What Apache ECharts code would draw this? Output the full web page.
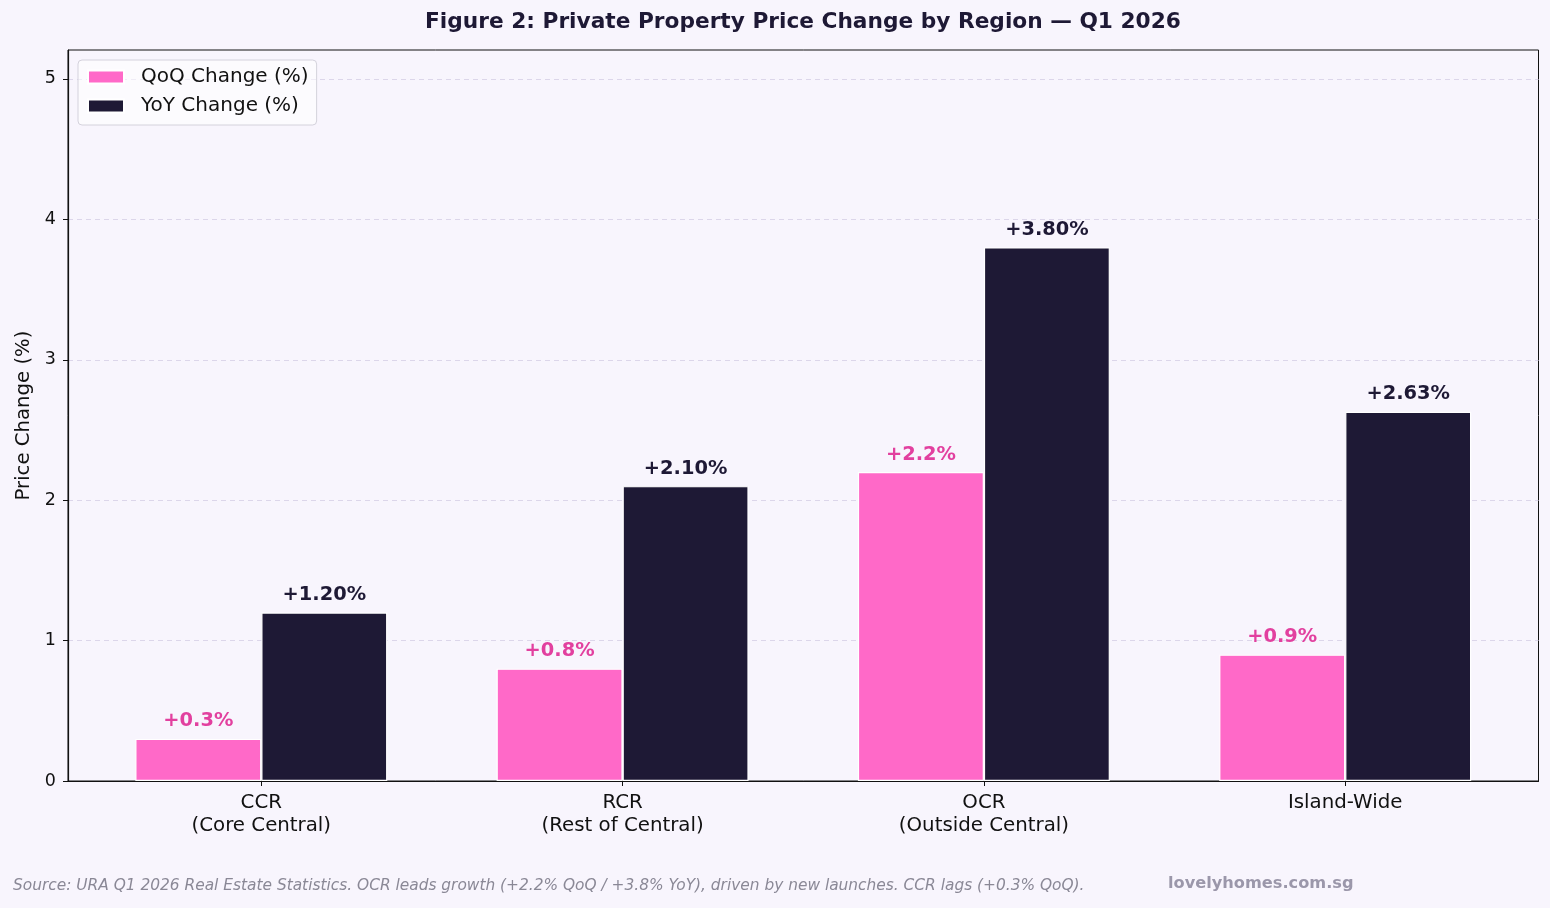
<!DOCTYPE html>
<html>
<head>
	<meta charset="UTF-8">
	<title>Private Property Price Change by Region</title>
	<script src="https://cdn.jsdelivr.net/npm/echarts@6/dist/echarts.min.js"></script>
	<style>
		body { margin: 0; background: #f8f5fd; }
	</style>
</head>
<body>

	<div id="main" style="width: 1550px;height:908px;"></div>

	<script>
		// chart data
		var regions = ['CCR\n(Core Central)', 'RCR\n(Rest of Central)', 'OCR\n(Outside Central)', 'Island-Wide'];
		var qoqValues = [0.3, 0.8, 2.2, 0.9];
		var yoyValues = [1.2, 2.1, 3.8, 2.63];
		var yTicks = [0, 1, 2, 3, 4, 5];

		const pinkColor = '#ff69c8';
		const pinkLabel = '#e2409f';
		const darkColor = '#1e1935';

		var chartDom = document.getElementById('main');
		var myChart = echarts.init(chartDom);

		// bars sit on a value x axis so the category centres line up with the picture
		var regionPos = regions.map(function (r, i) { return i; });

		function toPoints(values) {
			return values.map(function (v, i) { return [regionPos[i], v]; });
		}

		var option = {
			backgroundColor: '#f8f5fd',
			textStyle: { fontFamily: 'DejaVu Sans' },
			title: {
				text: 'Figure 2: Private Property Price Change by Region — Q1 2026',
				left: 420,
				top: 6,
				textStyle: { fontSize: 21.7, fontWeight: 'bold', color: darkColor, fontFamily: 'DejaVu Sans' }
			},
			legend: {
				orient: 'vertical',
				left: 78,
				top: 60,
				padding: [7, 8, 9, 9],
				itemWidth: 36,
				itemHeight: 13,
				itemGap: 9,
				backgroundColor: 'rgba(255,255,255,0.55)',
				borderColor: '#d4d2dc',
				borderWidth: 1,
				borderRadius: 4,
				textStyle: { fontSize: 20, color: '#111', padding: [0, 0, 0, 12] },
				data: [
					{ name: 'QoQ Change (%)', icon: 'rect' },
					{ name: 'YoY Change (%)', icon: 'rect' }
				]
			},
			grid: {
				left: 68,
				right: 11.5,
				top: 50,
				bottom: 127,
				show: true,
				borderColor: '#111',
				borderWidth: 1,
				backgroundColor: 'transparent'
			},
			xAxis: {
				type: 'value',
				min: -0.535,
				max: 3.535,
				axisLine: { show: true, onZero: false, lineStyle: { color: '#111', width: 1.2 } },
				axisTick: { show: true, customValues: regionPos, length: 5, lineStyle: { color: '#111' } },
				axisLabel: {
					customValues: regionPos,
					fontSize: 19.8,
					color: '#111',
					lineHeight: 23,
					margin: 10,
					formatter: function (v) { return regions[Math.round(v)]; }
				},
				splitLine: { show: false }
			},
			yAxis: {
				type: 'value',
				min: 0,
				max: 5.206,
				interval: 1,
				name: 'Price Change (%)',
				nameLocation: 'middle',
				nameGap: 33,
				nameTextStyle: { fontSize: 19.7, color: '#111' },
				axisLine: { show: true, onZero: false, lineStyle: { color: '#111', width: 1.2 } },
				axisTick: { show: true, customValues: yTicks, length: 5, lineStyle: { color: '#111' } },
				axisLabel: {
					customValues: yTicks,
					fontSize: 17.5,
					color: '#111',
					margin: 12
				},
				splitLine: {
					show: true,
					showMinLine: false,
					showMaxLine: true,
					lineStyle: { color: '#dcd6ea', type: [5, 4], width: 1 }
				}
			},
			series: [
				{
					name: 'QoQ Change (%)',
					type: 'bar',
					data: toPoints(qoqValues),
					barWidth: 126,
					barGap: '0%',
					itemStyle: { color: pinkColor, borderColor: '#fff', borderWidth: 1.2 },
					label: {
						show: true,
						position: 'top',
						distance: 8,
						fontSize: 19.4,
						fontWeight: 'bold',
						color: pinkLabel,
						formatter: function (p) { return '+' + p.value[1].toFixed(1) + '%'; }
					}
				},
				{
					name: 'YoY Change (%)',
					type: 'bar',
					data: toPoints(yoyValues),
					barWidth: 126,
					barGap: '0%',
					itemStyle: { color: darkColor, borderColor: '#fff', borderWidth: 1.2 },
					label: {
						show: true,
						position: 'top',
						distance: 8,
						fontSize: 19.4,
						fontWeight: 'bold',
						color: darkColor,
						formatter: function (p) { return '+' + p.value[1].toFixed(2) + '%'; }
					}
				}
			],
			graphic: [
				{
					type: 'text',
					left: 13,
					top: 878,
					style: {
						text: 'Source: URA Q1 2026 Real Estate Statistics. OCR leads growth (+2.2% QoQ / +3.8% YoY), driven by new launches. CCR lags (+0.3% QoQ).',
						font: 'italic 15.4px "DejaVu Sans"',
						fill: '#8a8896'
					}
				},
				{
					type: 'text',
					left: 1168,
					top: 876,
					style: {
						text: 'lovelyhomes.com.sg',
						font: 'bold 16.2px "DejaVu Sans"',
						fill: '#9b97aa'
					}
				}
			]
		};

		option && myChart.setOption(option);
	</script>

</body>
</html>
